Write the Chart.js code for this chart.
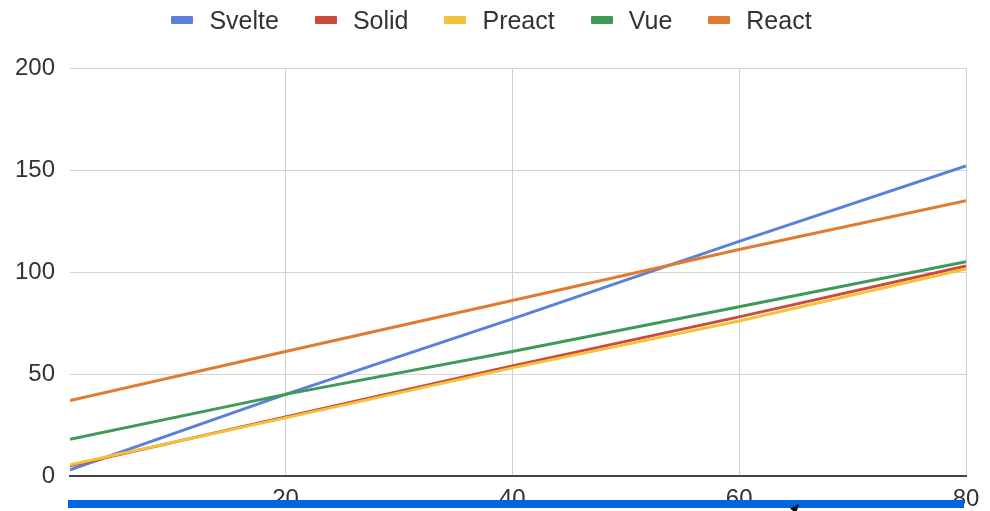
<!DOCTYPE html>
<html>
<head>
<meta charset="utf-8">
<script src="https://cdn.jsdelivr.net/npm/chart.js@4"></script>
<style>
  body { margin: 0; background: #fff; font-family: "Liberation Sans", Arial, sans-serif; }
  #wrap { position: relative; width: 990px; height: 511px; }
  #legend {
    position: absolute; top: 4px; left: 0; width: 983px; height: 32px;
    display: flex; justify-content: center; align-items: center; gap: 36px;
    font-size: 25px; color: #333;
  }
  .item { display: flex; align-items: center; }
  .box { width: 22px; height: 8px; margin-right: 16px; border-radius: 1px; }
  #bar { position: absolute; left: 68px; top: 500px; width: 896px; height: 8px; background: #0064e1; }
  #cursor {
    position: absolute; left: 792px; top: 503px; width: 0; height: 0;
    border-left: 4px solid transparent; border-right: 4px solid transparent;
    border-bottom: 9px solid #111; transform: rotate(40deg);
  }
</style>
</head>
<body>
<div id="wrap">
  <canvas id="chart" width="990" height="511"></canvas>
  <div id="legend"></div>
  <div id="bar"></div>
  <div id="cursor"></div>
</div>
<script>
// x positions
const xValues = [1, 20, 40, 60, 80];

const svelte = [3, 40, 77, 115, 152];
const solid = [5, 29, 54, 78, 103];
const preact = [5.5, 28.5, 53, 76, 101.5];
const vue = [18, 40, 61, 83, 105];
const react = [37, 61, 86, 111, 135];

const seriesNames = ['Svelte', 'Solid', 'Preact', 'Vue', 'React'];
const seriesValues = [svelte, solid, preact, vue, react];
const seriesColors = ['#5a80d8', '#cc4a3c', '#f2c23a', '#3f9a58', '#e17b2f'];

const xTicks = [20, 40, 60, 80];
const yTicks = [0, 50, 100, 150, 200];

const font = { family: '"Liberation Sans", Arial, sans-serif', size: 24 };

// legend (html, like the sheets one)
const legend = document.getElementById('legend');
seriesNames.forEach((name, i) => {
    const item = document.createElement('div');
    item.className = 'item';
    item.innerHTML = `<span class="box" style="background:${seriesColors[i]}"></span><span>${name}</span>`;
    legend.appendChild(item);
});

const datasets = seriesNames.map((name, i) => ({
    label: name,
    data: xValues.map((x, j) => ({ x: x, y: seriesValues[i][j] })),
    borderColor: seriesColors[i],
    backgroundColor: seriesColors[i],
    borderWidth: 3,
    pointRadius: 0,
    tension: 0,
    // later series drawn on top, like sheets
    order: seriesNames.length - i
}));

new Chart(document.getElementById('chart'), {
    type: 'line',
    data: { datasets },
    options: {
        responsive: false,
        animation: false,
        layout: { padding: { top: 68, right: 24, left: 0, bottom: 0 } },
        plugins: {
            legend: { display: false },
            tooltip: { enabled: false }
        },
        scales: {
            x: {
                type: 'linear',
                min: 1,
                max: 80,
                afterBuildTicks: (scale) => { scale.ticks = xTicks.map(v => ({ value: v })); },
                afterFit: (scale) => { scale.height = 35; },
                grid: { color: '#cfcfcf', lineWidth: 1, drawTicks: false },
                border: { display: true, color: '#444', width: 2 },
                ticks: { color: '#333', font: font, padding: 9, maxRotation: 0 }
            },
            y: {
                min: 0,
                max: 200,
                afterBuildTicks: (scale) => { scale.ticks = yTicks.map(v => ({ value: v })); },
                afterFit: (scale) => { scale.width = 70; },
                grid: { color: '#d4d4d4', lineWidth: 1, drawTicks: false },
                border: { display: false },
                ticks: { color: '#333', font: font, padding: 15 }
            }
        }
    }
});
</script>
</body>
</html>
